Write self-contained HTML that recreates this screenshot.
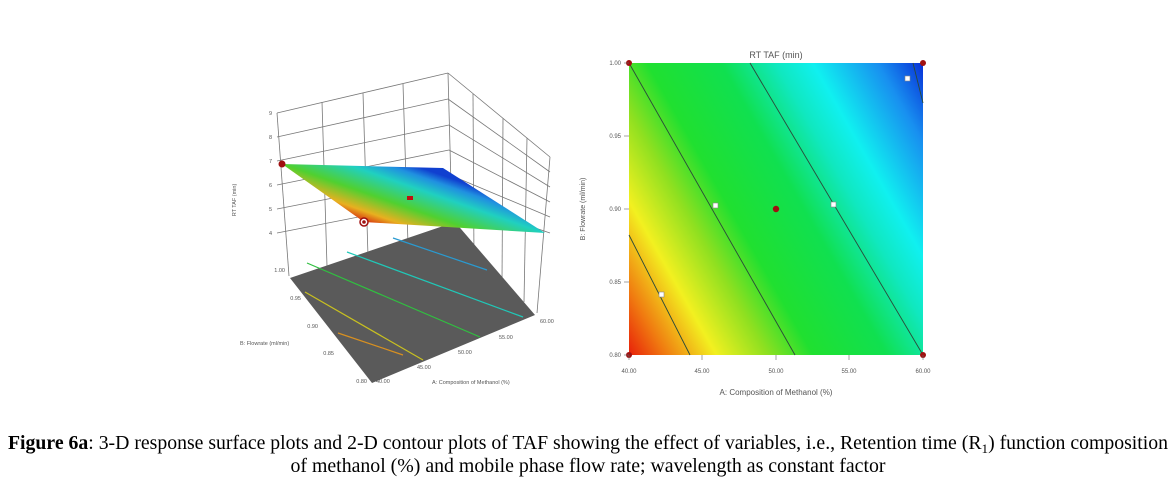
<!DOCTYPE html>
<html><head><meta charset="utf-8"><style>
body{margin:0;background:#fff;}
svg{display:block;}
.t{font-family:"Liberation Sans",sans-serif;fill:#555;}
.cap{font-family:"Liberation Serif",serif;font-size:19.5px;fill:#000;}
</style></head><body>
<svg width="1172" height="482" viewBox="0 0 1172 482" xmlns="http://www.w3.org/2000/svg">
<defs>
<linearGradient id="cg" gradientUnits="userSpaceOnUse" x1="629" y1="355" x2="977" y2="157">
<stop offset="0" stop-color="#e8200a"/>
<stop offset="0.08" stop-color="#f07a10"/>
<stop offset="0.19" stop-color="#f2f020"/>
<stop offset="0.3" stop-color="#90e020"/>
<stop offset="0.4" stop-color="#20e030"/>
<stop offset="0.56" stop-color="#10e050"/>
<stop offset="0.68" stop-color="#10e8c0"/>
<stop offset="0.76" stop-color="#10f0f0"/>
<stop offset="0.9" stop-color="#1890f0"/>
<stop offset="1" stop-color="#0830d8"/>
</linearGradient>
<linearGradient id="sg" gradientUnits="userSpaceOnUse" x1="364" y1="222" x2="387" y2="156">
<stop offset="0" stop-color="#d83010"/>
<stop offset="0.15" stop-color="#e8b020"/>
<stop offset="0.4" stop-color="#50d030"/>
<stop offset="0.7" stop-color="#20d0c0"/>
<stop offset="0.88" stop-color="#2090e0"/>
<stop offset="1" stop-color="#1040d0"/>
</linearGradient>
</defs>

<g stroke="#777" stroke-width="0.8" fill="none">
<line x1="277" y1="113" x2="448" y2="73"/>
<line x1="448" y1="73" x2="550" y2="157"/>
<line x1="277" y1="113" x2="289" y2="276"/>
<line x1="448" y1="73" x2="452" y2="222"/>
<line x1="550" y1="157" x2="537" y2="313"/>
<line x1="277" y1="137" x2="448" y2="99"/>
<line x1="277" y1="161" x2="449" y2="125"/>
<line x1="277" y1="185" x2="449" y2="150"/>
<line x1="277" y1="209" x2="450" y2="175"/>
<line x1="277" y1="233" x2="450" y2="199"/>
<line x1="448" y1="99" x2="550" y2="172"/>
<line x1="449" y1="125" x2="550" y2="187"/>
<line x1="449" y1="150" x2="550" y2="202"/>
<line x1="450" y1="175" x2="550" y2="217"/>
<line x1="450" y1="199" x2="550" y2="233"/>
<line x1="322" y1="102" x2="327" y2="266"/>
<line x1="363" y1="93" x2="368" y2="256"/>
<line x1="403" y1="84" x2="408" y2="244"/>
<line x1="473" y1="94" x2="474" y2="260"/>
<line x1="503" y1="118" x2="502" y2="282"/>
<line x1="527" y1="138" x2="524" y2="302"/>
</g>
<polygon points="290,278 455,222 535,315 372,383" fill="#5a5a5a"/>
<g stroke-width="1.2" fill="none">
<line x1="393" y1="238" x2="487" y2="270" stroke="#2a9ad0"/>
<line x1="347" y1="252" x2="523" y2="317" stroke="#20c8b8"/>
<line x1="307" y1="263" x2="480" y2="337" stroke="#30c040"/>
<line x1="305" y1="292" x2="423" y2="360" stroke="#c8c020"/>
<line x1="338" y1="333" x2="403" y2="355" stroke="#d89020"/>
</g>
<polygon points="282,164 443,168 545,233 364,222" fill="url(#sg)"/>
<circle cx="282" cy="164" r="3.5" fill="#a01010"/>
<circle cx="364" cy="222" r="4" fill="#fff" stroke="#a01010" stroke-width="1.5"/>
<circle cx="364" cy="222" r="1.8" fill="#a01010"/>
<rect x="407" y="196" width="6" height="4" fill="#c01010"/>
<g class="t" font-size="5.5">
<text x="272" y="115" text-anchor="end">9</text>
<text x="272" y="139" text-anchor="end">8</text>
<text x="272" y="163" text-anchor="end">7</text>
<text x="272" y="187" text-anchor="end">6</text>
<text x="272" y="211" text-anchor="end">5</text>
<text x="272" y="235" text-anchor="end">4</text>
<text x="285" y="272" text-anchor="end">1.00</text>
<text x="301" y="300" text-anchor="end">0.95</text>
<text x="318" y="328" text-anchor="end">0.90</text>
<text x="334" y="355" text-anchor="end">0.85</text>
<text x="367" y="383" text-anchor="end">0.80</text>
<text x="376" y="383">40.00</text>
<text x="417" y="369">45.00</text>
<text x="458" y="354">50.00</text>
<text x="499" y="339">55.00</text>
<text x="540" y="323">60.00</text>
<text x="240" y="345">B: Flowrate (ml/min)</text>
<text x="432" y="384">A: Composition of Methanol (%)</text>
<text transform="translate(236,200) rotate(-90)" text-anchor="middle">RT TAF (min)</text>
</g>

<rect x="629" y="63" width="294" height="292" fill="url(#cg)"/>
<g stroke="#2a4a3a" stroke-width="0.9" fill="none">
<line x1="629" y1="63" x2="795" y2="355"/>
<line x1="750" y1="63" x2="923" y2="355"/>
<line x1="629" y1="235" x2="690" y2="355"/>
<line x1="913" y1="63" x2="923" y2="103"/>
</g>
<g fill="#a01010">
<circle cx="629" cy="63" r="3"/><circle cx="923" cy="63" r="3"/>
<circle cx="629" cy="355" r="3"/><circle cx="923" cy="355" r="3"/>
<circle cx="776" cy="209" r="3.2"/>
</g>
<g fill="#fff" stroke="#888" stroke-width="0.6">
<rect x="713" y="203" width="5" height="5"/>
<rect x="831" y="202" width="5" height="5"/>
<rect x="659" y="292" width="5" height="5"/>
<rect x="905" y="76" width="5" height="5"/>
</g>
<g stroke="#666" stroke-width="0.6">
<line x1="624" y1="63" x2="629" y2="63"/><line x1="624" y1="136" x2="629" y2="136"/>
<line x1="624" y1="209" x2="629" y2="209"/><line x1="624" y1="282" x2="629" y2="282"/>
<line x1="624" y1="355" x2="629" y2="355"/>
<line x1="629" y1="355" x2="629" y2="360"/><line x1="702" y1="355" x2="702" y2="360"/>
<line x1="776" y1="355" x2="776" y2="360"/><line x1="849" y1="355" x2="849" y2="360"/>
<line x1="923" y1="355" x2="923" y2="360"/>
</g>
<g class="t" font-size="6">
<text x="621" y="65" text-anchor="end">1.00</text>
<text x="621" y="138" text-anchor="end">0.95</text>
<text x="621" y="211" text-anchor="end">0.90</text>
<text x="621" y="284" text-anchor="end">0.85</text>
<text x="621" y="357" text-anchor="end">0.80</text>
<text x="629" y="373" text-anchor="middle">40.00</text>
<text x="702" y="373" text-anchor="middle">45.00</text>
<text x="776" y="373" text-anchor="middle">50.00</text>
<text x="849" y="373" text-anchor="middle">55.00</text>
<text x="923" y="373" text-anchor="middle">60.00</text>
</g>
<text class="t" x="776" y="395" font-size="8" text-anchor="middle">A: Composition of Methanol (%)</text>
<text class="t" x="776" y="58" font-size="9" text-anchor="middle" fill="#444">RT TAF (min)</text>
<text class="t" font-size="7" text-anchor="middle" transform="translate(585,209) rotate(-90)">B: Flowrate (ml/min)</text>

<text class="cap" x="8" y="449" textLength="1160" lengthAdjust="spacingAndGlyphs"><tspan font-weight="bold">Figure 6a</tspan>: 3-D response surface plots and 2-D contour plots of TAF showing the effect of variables, i.e., Retention time (R<tspan font-size="13" dy="4">1</tspan><tspan dy="-4">) function composition</tspan></text>
<text class="cap" x="588" y="472" text-anchor="middle" textLength="595" lengthAdjust="spacingAndGlyphs">of methanol (%) and mobile phase flow rate; wavelength as constant factor</text>
</svg>
</body></html>
